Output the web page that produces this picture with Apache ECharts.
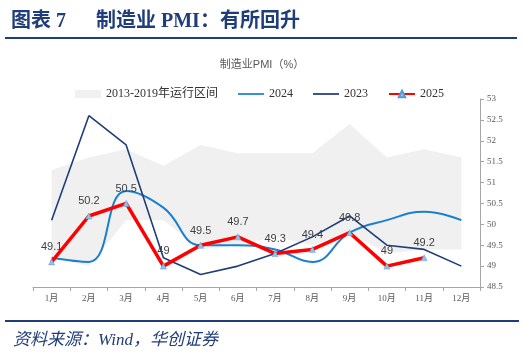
<!DOCTYPE html>
<html><head><meta charset="utf-8">
<script src="https://cdn.jsdelivr.net/npm/echarts@6/dist/echarts.min.js"></script>
<style>html,body{margin:0;padding:0;background:#fff}#c{width:524px;height:363px}</style>
</head><body><div id="c"></div>
<script>
const months = ['1月','2月','3月','4月','5月','6月','7月','8月','9月','10月','11月','12月'];
const rangeLow = [49.2, 49.0, 50.1, 50.1, 49.4, 49.5, 49.7, 49.5, 49.8, 49.3, 49.4, 49.4];
const rangeHigh = [51.3, 51.6, 51.8, 51.4, 51.9, 51.7, 51.7, 51.7, 52.4, 51.6, 51.8, 51.6];
const pmi2024 = [49.2, 49.1, 50.8, 50.4, 49.5, 49.5, 49.4, 49.1, 49.8, 50.1, 50.3, 50.1];
const pmi2023 = [50.1, 52.6, 51.9, 49.2, 48.8, 49.0, 49.3, 49.7, 50.2, 49.5, 49.4, 49.0];
const pmi2025 = [49.1, 50.2, 50.5, 49.0, 49.5, 49.7, 49.3, 49.4, 49.8, 49.0, 49.2];
const yTicks = {min: 48.5, max: 53, interval: 0.5};

const navy = '#1f3d7a';
const serif = '"Liberation Serif","DejaVu Serif","Noto Sans CJK SC",serif';
const sans = '"Liberation Sans","Noto Sans CJK SC",sans-serif';
const lineIcon = 'path://M0,0 L30,0 L30,2 L0,2 Z';
const chart = echarts.init(document.getElementById('c'), null, {renderer:'canvas'});
chart.setOption({
  animation: false,
  backgroundColor: '#fff',
  title: [
    {text: '图表 7      制造业 PMI：有所回升', left: 6, top: 7,
     textStyle: {fontFamily: serif, fontSize: 20, fontWeight: 'bold', color: navy}},
    {text: '制造业PMI（%）', left: 'center', top: 54,
     textStyle: {fontFamily: sans, fontSize: 11, fontWeight: 'normal', color: '#595959'}},
    {text: '资料来源：Wind，华创证券', left: 8, top: 327,
     textStyle: {fontFamily: serif, fontSize: 17, fontStyle: 'italic', fontWeight: 'normal', color: navy}}
  ],
  graphic: [
    {type: 'line', shape: {x1: 5, y1: 38, x2: 517, y2: 38}, style: {stroke: navy, lineWidth: 2}},
    {type: 'line', shape: {x1: 5, y1: 321, x2: 519, y2: 321}, style: {stroke: navy, lineWidth: 2}}
  ],
  legend: {
    left: 70, top: 83, itemWidth: 26, itemHeight: 8, itemGap: 20,
    textStyle: {fontFamily: serif, fontSize: 12, color: '#333'},
    data: [
      {name: '2013-2019年运行区间', icon: 'rect'},
      {name: '2024', icon: lineIcon, itemHeight: 2},
      {name: '2023', icon: lineIcon, itemHeight: 2},
      {name: '2025'}
    ]
  },
  grid: {left: 33, right: 44, top: 99, bottom: 76},
  xAxis: {
    type: 'category', data: months, boundaryGap: true,
    axisLine: {lineStyle: {color: '#a6a6a6'}},
    axisTick: {show: true, length: 4, lineStyle: {color: '#a6a6a6'}},
    axisLabel: {fontFamily: serif, fontSize: 9, color: '#595959', margin: 7}
  },
  yAxis: {
    type: 'value', position: 'right', min: yTicks.min, max: yTicks.max, interval: yTicks.interval,
    splitLine: {show: false},
    axisLine: {show: true, lineStyle: {color: '#a6a6a6'}},
    axisTick: {show: true, length: 4, inside: false, lineStyle: {color: '#a6a6a6'}},
    axisLabel: {fontFamily: serif, fontSize: 9, color: '#595959', margin: 7}
  },
  series: [
    {name: 'base', type: 'line', stack: 'band', data: rangeLow, symbol: 'none',
     lineStyle: {opacity: 0}, areaStyle: {opacity: 0}, silent: true},
    {name: '2013-2019年运行区间', type: 'line', stack: 'band',
     data: rangeHigh.map((v, i) => +(v - rangeLow[i]).toFixed(2)), symbol: 'none',
     itemStyle: {color: '#f0f0f0'},
     lineStyle: {opacity: 0}, areaStyle: {color: '#f0f0f0', opacity: 1}},
    {name: '2024', type: 'line', data: pmi2024, smooth: 0.45, symbol: 'none',
     itemStyle: {color: '#1a7fcf'}, lineStyle: {color: '#1a7fcf', width: 2}},
    {name: '2023', type: 'line', data: pmi2023, symbol: 'none',
     itemStyle: {color: navy}, lineStyle: {color: navy, width: 1.6}},
    {name: '2025', type: 'line', data: pmi2025, symbol: 'triangle', symbolSize: 6,
     itemStyle: {color: '#8fc3e6', borderColor: '#5b9bd5', borderWidth: 0.5},
     lineStyle: {color: '#ff0000', width: 3.5},
     label: {show: true, position: 'top', distance: 6, fontFamily: sans, fontSize: 11, color: '#404040'}}
  ]
});
</script></body></html>
